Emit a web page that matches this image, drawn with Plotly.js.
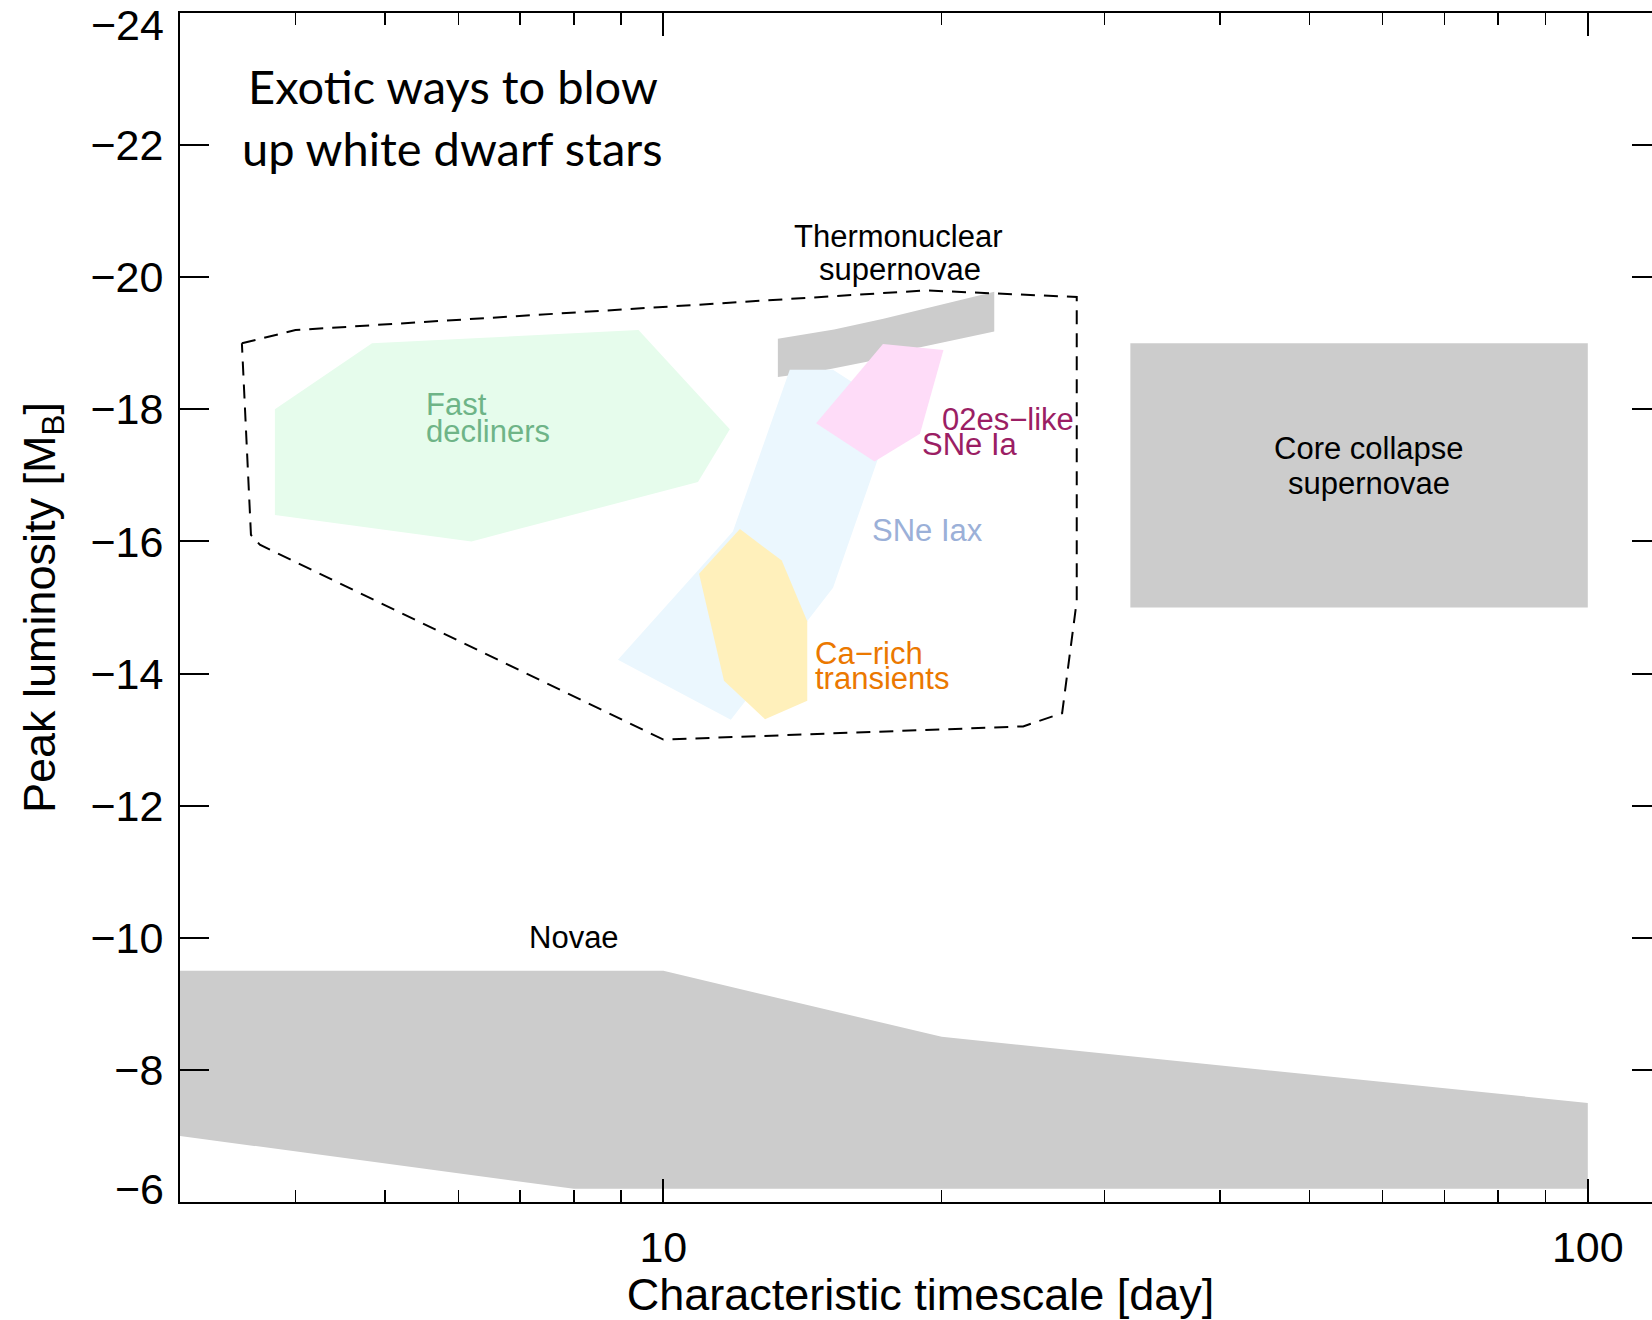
<!DOCTYPE html>
<html>
<head>
<meta charset="utf-8">
<script src="https://cdn.plot.ly/plotly-3.0.1.min.js"></script>
<style>
html,body{margin:0;padding:0;overflow:hidden;background:#fff;}
#chart{width:1700px;height:1320px;}
</style>
</head>
<body>
<div id="chart"></div>
<script>
// ---- data (characteristic timescale [day], peak magnitude M_B) ----
const novaeX = [3, 10, 20, 100, 100, 8, 3];
const novaeM = [-9.5, -9.5, -8.5, -7.5, -6.2, -6.2, -7.0];

const coreX = [32, 100, 100, 32];
const coreM = [-19, -19, -15, -15];

const fastX = [4.84, 9.4, 11.8, 10.9, 6.2, 3.8, 3.8];
const fastM = [-19.0, -19.2, -17.7, -16.9, -16.0, -16.4, -18.0];

const thermoX = [13.3, 15.3, 17.3, 19.6, 22.8, 22.8, 18.8, 16.6, 14.65, 13.3];
const thermoM = [-19.07, -19.21, -19.37, -19.56, -19.78, -19.18, -18.93, -18.72, -18.57, -18.49];

const iaxX = [13.7, 15.26, 17.15, 17.58, 15.26, 11.83, 8.93, 11.89];
const iaxM = [-18.6, -18.6, -18.14, -17.77, -15.3, -13.3, -14.21, -16.15];

const es02X = [17.28, 20.09, 18.95, 16.92, 14.63];
const es02M = [-18.99, -18.9, -17.63, -17.21, -17.79];

const caX = [12.1, 13.43, 14.31, 14.31, 12.88, 11.63, 10.93];
const caM = [-16.19, -15.71, -14.79, -13.59, -13.31, -13.89, -15.51];

const wdX = [3.5, 4.0, 19.2, 28.0, 28.0, 27.0, 24.5, 10.0, 3.66, 3.58, 3.5];
const wdM = [-19.0, -19.2, -19.8, -19.7, -15.1, -13.4, -13.2, -13.0, -15.95, -16.1, -19.0];

// inner y ticks drawn by the axis; the two end labels are nudged inside the frame as in the original
const yTicks = [-22, -20, -18, -16, -14, -12, -10, -8];
const yEndLabels = ['−24', '−6'];
const yEndPos = [-23.815, -6.19];
const xTicks = [10, 100];
const xTickText = ['10', '100'];
const xMinor = [4, 5, 6, 7, 8, 9, 20, 30, 40, 50, 60, 70, 80, 90];

// ---- colours ----
const GRAY = 'rgb(204,204,204)';
const GREEN_FILL = 'rgb(230,252,236)';
const BLUE_FILL = 'rgb(235,247,254)';
const PINK_FILL = 'rgb(254,220,248)';
const YELLOW_FILL = 'rgb(255,240,187)';

function poly(x, m, color) {
  return {x: x, y: m, type: 'scatter', mode: 'lines', fill: 'toself',
    fillcolor: color, line: {width: 0, color: color}, hoverinfo: 'skip', showlegend: false};
}

const traces = [
  poly(novaeX, novaeM, GRAY),
  poly(coreX, coreM, GRAY),
  poly(fastX, fastM, GREEN_FILL),
  poly(thermoX, thermoM, GRAY),
  poly(iaxX, iaxM, BLUE_FILL),
  poly(es02X, es02M, PINK_FILL),
  poly(caX, caM, YELLOW_FILL),
  {x: wdX, y: wdM, type: 'scatter', mode: 'lines',
   line: {color: 'black', width: 2, dash: '14px,9px'}, hoverinfo: 'skip', showlegend: false}
];

const SANS = 'Liberation Sans, Arial, Helvetica, sans-serif';
function lab(text, x, y, color, anchor, size, family) {
  return {text: text, x: Math.log10(x), y: y, xref: 'x', yref: 'y', showarrow: false,
    xanchor: anchor || 'center', yanchor: 'middle',
    font: {family: family || SANS, size: size || 31, color: color}};
}

const annotations = [
  lab('Exotic ways to blow', 5.92, -22.90, 'black', 'center', 47, 'Lato, Carlito, sans-serif'),
  lab('up white dwarf stars', 5.92, -21.96, 'black', 'center', 47, 'Lato, Carlito, sans-serif'),
  lab('Thermonuclear', 17.93, -20.62, 'black'),
  lab('supernovae', 18.02, -20.12, 'black'),
  lab('Fast', 5.51, -18.07, 'rgb(110,180,135)', 'left'),
  lab('decliners', 5.51, -17.67, 'rgb(110,180,135)', 'left'),
  lab('02es−like', 19.91, -17.85, 'rgb(155,30,100)', 'left'),
  lab('SNe Ia', 18.94, -17.47, 'rgb(155,30,100)', 'left'),
  lab('SNe Iax', 16.75, -16.17, 'rgb(155,176,216)', 'left'),
  lab('Ca−rich', 14.51, -14.31, 'rgb(235,120,0)', 'left'),
  lab('transients', 14.51, -13.92, 'rgb(235,120,0)', 'left'),
  lab('Core collapse', 57.96, -17.40, 'black'),
  lab('supernovae', 57.96, -16.87, 'black'),
  lab('Novae', 8.0, -10.0, 'black')
];
yEndLabels.forEach(function (t, i) {
  annotations.push({text: t, xref: 'paper', x: -0.0095, yref: 'y', y: yEndPos[i],
    xanchor: 'right', yanchor: 'middle', showarrow: false,
    font: {family: SANS, size: 43, color: 'black'}});
});

const layout = {
  width: 1700, height: 1320,
  margin: {l: 180, r: 39, t: 13, b: 118, pad: 0},
  paper_bgcolor: 'white', plot_bgcolor: 'white',
  showlegend: false,
  font: {family: SANS, color: 'black'},
  xaxis: {
    type: 'log', range: [Math.log10(3), Math.log10(120)],
    tickmode: 'array', tickvals: xTicks, ticktext: xTickText,
    ticks: 'inside', ticklen: 23, tickwidth: 2, tickcolor: 'black',
    minor: {tickmode: 'array', tickvals: xMinor, ticks: 'inside', ticklen: 12, tickwidth: 1.5, tickcolor: 'black', showgrid: false},
    showline: true, linewidth: 2, linecolor: 'black', mirror: 'ticks',
    showgrid: false, zeroline: false,
    tickfont: {family: SANS, size: 43, color: 'black'},
    ticklabelstandoff: 6,
    title: {text: 'Characteristic timescale [day]', font: {family: SANS, size: 45, color: 'black'}, standoff: 4},
    automargin: false
  },
  yaxis: {
    range: [-6, -24],
    tickmode: 'array', tickvals: yTicks,
    ticks: 'inside', ticklen: 29, tickwidth: 2, tickcolor: 'black',
    showline: true, linewidth: 2, linecolor: 'black', mirror: 'ticks',
    showgrid: false, zeroline: false,
    tickfont: {family: SANS, size: 43, color: 'black'},
    ticklabelstandoff: 6,
    title: {text: 'Peak luminosity [M<sub>B</sub>]', font: {family: SANS, size: 45, color: 'black'}, standoff: 21},
    automargin: false
  },
  annotations: annotations
};

Plotly.newPlot('chart', traces, layout, {displayModeBar: false, staticPlot: true});
</script>
</body>
</html>
